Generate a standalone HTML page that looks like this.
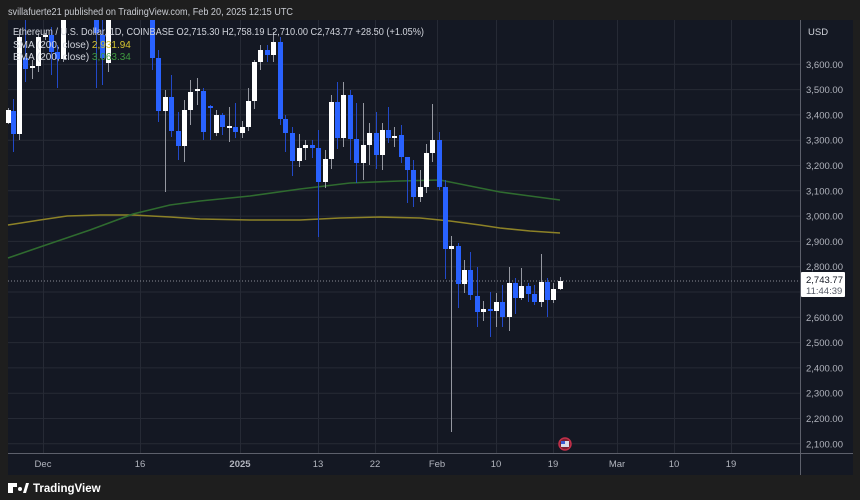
<!DOCTYPE html>
<html><head><meta charset="utf-8"><style>
html,body{margin:0;padding:0;background:#1e1e1e;width:860px;height:500px;overflow:hidden;font-family:"Liberation Sans",sans-serif}
svg{position:absolute;left:0;top:0}
</style></head><body>
<svg id="s" width="860" height="500" xmlns="http://www.w3.org/2000/svg">
<rect x="0" y="0" width="860" height="500" fill="#1e1e1e"/>
<rect x="8" y="20" width="845" height="455" fill="#141823"/>
<g id="grid" stroke="#262a35" stroke-width="1"></g>
<polyline fill="none" stroke="#8d8227" stroke-width="1.6" points="8,225 40,220 67,216 100,215 133,215 170,217 200,219 250,220 300,220 340,218 380,217 420,218 450,221 480,225 500,228 530,231 560,233"/>
<polyline fill="none" stroke="#2f6b2f" stroke-width="1.6" points="8,258 40,247 90,230 133,214 170,205 200,201 250,196 300,189 350,183 400,181 440,180 455,183 480,188 500,192 530,196 560,200"/>
<line x1="8" y1="281" x2="800" y2="281" stroke="#8a8d96" stroke-width="1" stroke-dasharray="1,2"/>
<g id="c"></g>
<line x1="800.5" y1="20" x2="800.5" y2="475" stroke="#5d606b"/>
<line x1="8" y1="453.5" x2="853" y2="453.5" stroke="#5d606b"/>
<g id="yl" fill="#b2b5be" font-size="9.5"></g>
<g id="xl" fill="#b2b5be" font-size="9.5" text-anchor="middle"></g>
<text x="808" y="35" fill="#d1d4dc" font-size="9.5">USD</text>
<rect x="801" y="272" width="44" height="25" fill="#ffffff" rx="1"/>
<text x="806" y="283" fill="#131722" font-size="9.5">2,743.77</text>
<text x="806" y="294" fill="#555a66" font-size="9.5">11:44:39</text>
<circle cx="565" cy="444" r="6" fill="#7a1f2e" stroke="#c2304a" stroke-width="1.5"/>
<rect x="561" y="441" width="8" height="6" fill="#d8dbe8"/>
<rect x="561" y="441" width="4" height="3" fill="#3a5bd0"/>
<text x="8" y="15" fill="#c8cbd2" font-size="10" textLength="285" lengthAdjust="spacingAndGlyphs">svillafuerte21 published on TradingView.com, Feb 20, 2025 12:15 UTC</text>
<text x="13" y="35" fill="#d1d4dc" font-size="10" textLength="411" lengthAdjust="spacingAndGlyphs">Ethereum / U.S. Dollar, 1D, COINBASE  O2,715.30  H2,758.19  L2,710.00  C2,743.77  +28.50 (+1.05%)</text>
<text x="13" y="48" fill="#d1d4dc" font-size="10">SMA (200, close)  <tspan fill="#d4c430">2,931.94</tspan></text>
<text x="13" y="60" fill="#d1d4dc" font-size="10">EMA (200, close)  <tspan fill="#3f9a3f">3,063.34</tspan></text>
<g transform="translate(8,483)"><rect x="0" y="0" width="5" height="10" fill="#fff"/><rect x="0" y="0" width="9" height="4" fill="#fff"/><circle cx="12" cy="6" r="2" fill="#fff"/><polygon points="15,10 18,0 21,0 18,10" fill="#fff"/></g>
<text x="33" y="492" fill="#ffffff" font-size="11.5" font-weight="bold">TradingView</text>
</svg>
<script>
var NS="http://www.w3.org/2000/svg";
function el(p,t,a,tx){var e=document.createElementNS(NS,t);for(var k in a)e.setAttribute(k,a[k]);if(tx)e.textContent=tx;p.appendChild(e);return e;}
var g=document.getElementById('grid'),yl=document.getElementById('yl'),xl=document.getElementById('xl');
for(var p=2100;p<=3600;p+=100){var y=266.7+(2800-p)*0.253;el(g,'line',{x1:8,x2:800,y1:y.toFixed(1),y2:y.toFixed(1)});
var s=p.toString();s=s[0]+','+s.slice(1)+'.00';if(p!=2700)el(yl,'text',{x:806,y:(y+3.5).toFixed(1)},s);}
var xs=[[43,'Dec'],[140,'16'],[240,'2025'],[318,'13'],[375,'22'],[437,'Feb'],[496,'10'],[553,'19'],[617,'Mar'],[674,'10'],[731,'19']];
xs.forEach(function(a){el(g,'line',{x1:a[0]+.5,x2:a[0]+.5,y1:20,y2:453});var t=el(xl,'text',{x:a[0],y:467},a[1]);if(a[1]=='2025')t.setAttribute('font-weight','bold');});
var C=[[8,108,110,123,124,'w'],[13,99,111,134,152,'b'],[19,30,37,134,140,'w'],[25,20,58,69,82,'b'],[32,60,66,68,79,'w'],[38,33,37,66,72,'w'],[45,33,35,37,40,'w'],
[51,27,35,52,75,'b'],[57,45,52,59,88,'b'],[63,20,20,59,62,'w'],[96,20,20,33,88,'b'],[102,20,35,58,85,'b'],[108,20,20,63,72,'w'],
[152,20,20,58,70,'b'],[158,50,58,111,122,'b'],[165,90,97,111,192,'w'],[171,75,97,131,137,'b'],[178,112,131,146,160,'b'],[184,100,110,146,162,'w'],[190,80,92,110,125,'w'],[197,78,89,91,105,'w'],
[203,88,91,132,140,'b'],[210,105,106,108,140,'b'],[216,110,115,133,136,'w'],[222,113,115,127,135,'b'],[229,107,126,128,142,'w'],[235,103,127,132,138,'b'],[242,121,127,133,138,'w'],
[248,88,101,127,131,'w'],[254,60,62,101,109,'w'],[260,45,50,62,70,'w'],[267,45,50,55,62,'b'],[273,32,42,55,62,'w'],[280,37,42,119,125,'b'],
[285,115,119,133,152,'b'],[292,127,133,161,176,'b'],[299,134,148,161,167,'w'],[305,140,145,148,160,'w'],[312,140,145,148,158,'b'],[318,130,148,182,237,'b'],[325,150,159,182,188,'w'],
[331,95,102,159,169,'w'],[337,82,102,138,149,'b'],[343,82,95,138,147,'w'],[350,90,95,139,160,'b'],[356,103,139,163,183,'b'],[363,103,145,163,180,'w'],[369,123,133,145,165,'w'],
[376,112,133,155,169,'b'],[382,123,130,155,170,'w'],[388,107,130,138,143,'b'],[394,127,136,138,147,'w'],[401,125,135,157,163,'b'],[407,160,157,170,203,'b'],[413,160,170,197,207,'b'],
[420,170,187,197,202,'w'],[426,144,153,187,193,'w'],[432,104,140,153,162,'w'],[439,132,140,187,190,'b'],[445,180,187,249,279,'b'],[451,236,246,249,432,'w'],
[458,243,246,284,308,'b'],[464,260,270,284,293,'w'],[470,252,270,295,300,'b'],[477,267,296,312,327,'b'],[483,301,309,312,321,'w'],[490,292,309,311,337,'b'],[496,293,302,311,327,'w'],
[502,285,302,317,327,'b'],[509,267,283,317,331,'w'],[515,278,283,298,314,'b'],[521,268,286,298,300,'w'],[528,283,286,294,302,'b'],[534,285,294,302,305,'b'],[541,254,282,302,307,'w'],
[547,278,282,300,317,'b'],[553,283,289,300,303,'w'],[560,277,281,289,290,'w']];
var cg=document.getElementById('c');
C.forEach(function(c){var col=c[5]=='w'?'#ffffff':'#2962ff';var wc=c[5]=='w'?'#9598a1':'#2249c8';
el(cg,'line',{x1:c[0]+.5,x2:c[0]+.5,y1:c[1],y2:c[4],stroke:wc,'stroke-width':1});
var h=Math.max(1.5,c[3]-c[2]);el(cg,'rect',{x:c[0]-2,y:c[2],width:5,height:h,fill:col});});
</script>
</body></html>
